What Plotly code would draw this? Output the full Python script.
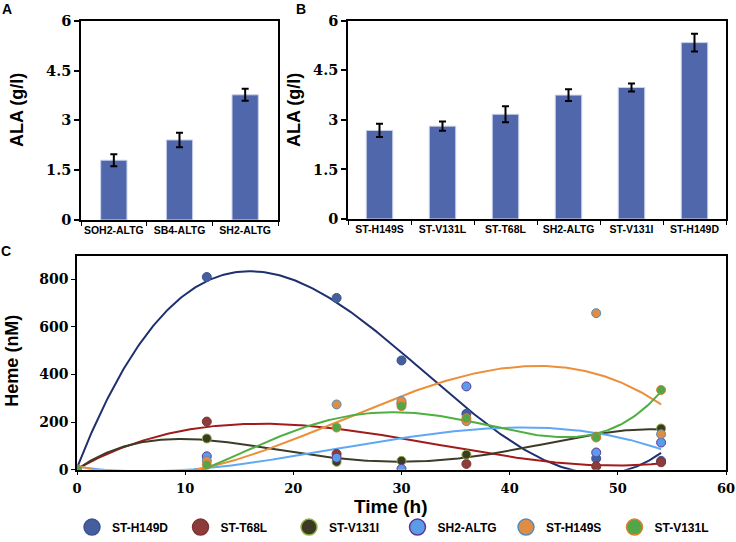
import numpy as np
import plotly.graph_objects as go

# ---------------- data ----------------
cats_a = ["SOH2-ALTG", "SB4-ALTG", "SH2-ALTG"]
ala_a = [1.80, 2.41, 3.77]
err_a = [0.18, 0.22, 0.18]

cats_b = ["ST-H149S", "ST-V131L", "ST-T68L", "SH2-ALTG", "ST-V131I", "ST-H149D"]
ala_b = [2.68, 2.81, 3.17, 3.75, 3.98, 5.34]
err_b = [0.20, 0.14, 0.24, 0.18, 0.12, 0.27]

time_h = [0, 12, 24, 30, 36, 48, 54]
heme_H149D = [0, 810, 722, 459, 235, 47, 37]
heme_T68L = [0, 202, 66, 278, 24, 14, 31]
heme_V131I = [0, 131, 33, 37, 63, 139, 173]
heme_SH2 = [0, 56, 50, 3, 350, 72, 114]
heme_H149S = [0, 37, 274, 288, 204, 658, 149]
heme_V131L = [0, 20, 177, 267, 216, 135, 335]

series_names = ["ST-H149D", "ST-T68L", "ST-V131I", "SH2-ALTG", "ST-H149S", "ST-V131L"]
series_vals = [heme_H149D, heme_T68L, heme_V131I, heme_SH2, heme_H149S, heme_V131L]
trend_order = [3, 3, 4, 3, 3, 4]
fill_cols = ["#445E9E", "#8E3B3B", "#3A3A25", "#5B9CE8", "#DF8D43", "#52A64A"]
edge_cols = ["#3B5390", "#7E3232", "#8BB043", "#60359A", "#4F8DC0", "#E57D2A"]
line_cols = ["#1F3070", "#A11B1B", "#3B3B27", "#5FA8F5", "#EB8F3A", "#4DB040"]

# ---------------- layout helpers ----------------
W, H = 736, 542
def fx(px):
    return px / W
def fy(py):
    return 1 - py / H

BAR_COL = "#5067AB"
SERIF = "DejaVu Serif"
SANS = "Liberation Sans"

fig = go.Figure()

# Panel A
fig.add_trace(go.Bar(
    x=cats_a, y=ala_a, xaxis="x", yaxis="y", width=0.4,
    marker=dict(color=BAR_COL, line=dict(color="#C9D1EA", width=1)),
    error_y=dict(type="data", array=err_a, color="black", thickness=2, width=3.5),
    showlegend=False))

# Panel B
fig.add_trace(go.Bar(
    x=cats_b, y=ala_b, xaxis="x2", yaxis="y2", width=0.42,
    marker=dict(color=BAR_COL, line=dict(color="#C9D1EA", width=1)),
    error_y=dict(type="data", array=err_b, color="black", thickness=2, width=3.5),
    showlegend=False))

# Panel C trendlines (polynomial fits of the data)
t_fine = np.linspace(0, 54, 300)
for name, vals, lc, order in zip(series_names, series_vals, line_cols, trend_order):
    coef = np.polyfit(time_h, vals, order)
    fig.add_trace(go.Scatter(
        x=t_fine, y=np.polyval(coef, t_fine), mode="lines", xaxis="x3", yaxis="y3",
        line=dict(color=lc, width=2), showlegend=False, hoverinfo="skip"))

# Panel C points
for name, vals, fc, ec in zip(series_names, series_vals, fill_cols, edge_cols):
    fig.add_trace(go.Scatter(
        x=time_h, y=vals, mode="markers", xaxis="x3", yaxis="y3",
        marker=dict(size=9, color=fc, line=dict(color=ec, width=1)),
        showlegend=False))

# legend-only entries (bigger symbols)
for name, fc, ec in zip(series_names, fill_cols, edge_cols):
    fig.add_trace(go.Scatter(
        x=[None], y=[None], mode="markers", xaxis="x3", yaxis="y3", name=name,
        marker=dict(size=16, color=fc, line=dict(color=ec, width=1.5)),
        showlegend=True))

tickfont_serif = dict(family=SERIF, size=14.5, color="black", weight="bold")
common_y = dict(range=[0, 6], tickvals=[0, 1.5, 3, 4.5, 6], ticktext=["0", "1.5", "3", "4.5", "6"],
                ticks="outside", ticklen=5, tickwidth=1.5, tickcolor="black",
                showline=True, linecolor="black", linewidth=1.5, mirror=True,
                showgrid=False, zeroline=False, tickfont=tickfont_serif, automargin=False)
common_xcat = dict(ticks="outside", tickson="boundaries", ticklen=4, tickcolor="black", tickwidth=1,
                   showline=True, linecolor="black", linewidth=1.5, mirror=True, showgrid=False,
                   tickangle=0,
                   tickfont=dict(family=SANS, size=10.5, color="black", weight="bold"),
                   automargin=False)

fig.update_layout(
    width=W, height=H, margin=dict(l=0, r=0, t=0, b=0),
    paper_bgcolor="white", plot_bgcolor="white",
    bargap=0.6,
    xaxis=dict(domain=[fx(81), fx(278)], anchor="y", **common_xcat),
    yaxis=dict(domain=[fy(222), fy(21)], anchor="x", **common_y),
    xaxis2=dict(domain=[fx(348), fx(726)], anchor="y2", **common_xcat),
    yaxis2=dict(domain=[fy(221), fy(21)], anchor="x2", **common_y),
    xaxis3=dict(domain=[fx(77), fx(726)], anchor="y3", range=[0, 60], dtick=10,
                ticks="outside", ticklen=4, tickcolor="black", showline=True, linecolor="black",
                linewidth=1.5, mirror=True, showgrid=False, zeroline=False, ticklabelstandoff=2,
                tickfont=dict(family=SERIF, size=13, color="black", weight="bold"), automargin=False),
    yaxis3=dict(domain=[fy(474), fy(258)], anchor="x3", range=[0, 900], tickvals=[0, 200, 400, 600, 800],
                ticks="outside", ticklen=4, tickcolor="black", showline=True, linecolor="black",
                linewidth=1.5, mirror=True, showgrid=False, zeroline=False,
                tickfont=dict(family=SERIF, size=14, color="black", weight="bold"), automargin=False),
    legend=dict(orientation="h", x=fx(72), y=fy(532), yanchor="middle", xanchor="left",
                entrywidth=63.5, entrywidthmode="pixels", itemclick=False,
                font=dict(family=SANS, size=12, color="black", weight="bold"),
                bgcolor="rgba(0,0,0,0)", tracegroupgap=0),
)

ann = [
    dict(text="A", x=fx(7), y=fy(9), size=14),
    dict(text="B", x=fx(301), y=fy(9), size=14),
    dict(text="C", x=fx(6), y=fy(253), size=14),
    dict(text="Time (h)", x=fx(391), y=fy(511), size=19),
]
annotations = []
for a in ann:
    annotations.append(dict(text=a["text"], x=a["x"], y=a["y"], xref="paper", yref="paper",
                            showarrow=False, xanchor="center", yanchor="middle",
                            font=dict(family=SANS, size=a["size"], color="black", weight="bold")))
for txt, x, y in [("ALA (g/l)", 17, 111), ("ALA (g/l)", 294, 111), ("Heme (nM)", 12, 364)]:
    annotations.append(dict(text=txt, x=fx(x), y=fy(y), xref="paper", yref="paper", textangle=-90,
                            showarrow=False, xanchor="center", yanchor="middle",
                            font=dict(family=SANS, size=18, color="black", weight="bold")))
fig.update_layout(annotations=annotations)

fig.write_html("out.html", config={"displayModeBar": False},
               post_script="document.body.style.margin='0';document.body.style.overflow='hidden';")
